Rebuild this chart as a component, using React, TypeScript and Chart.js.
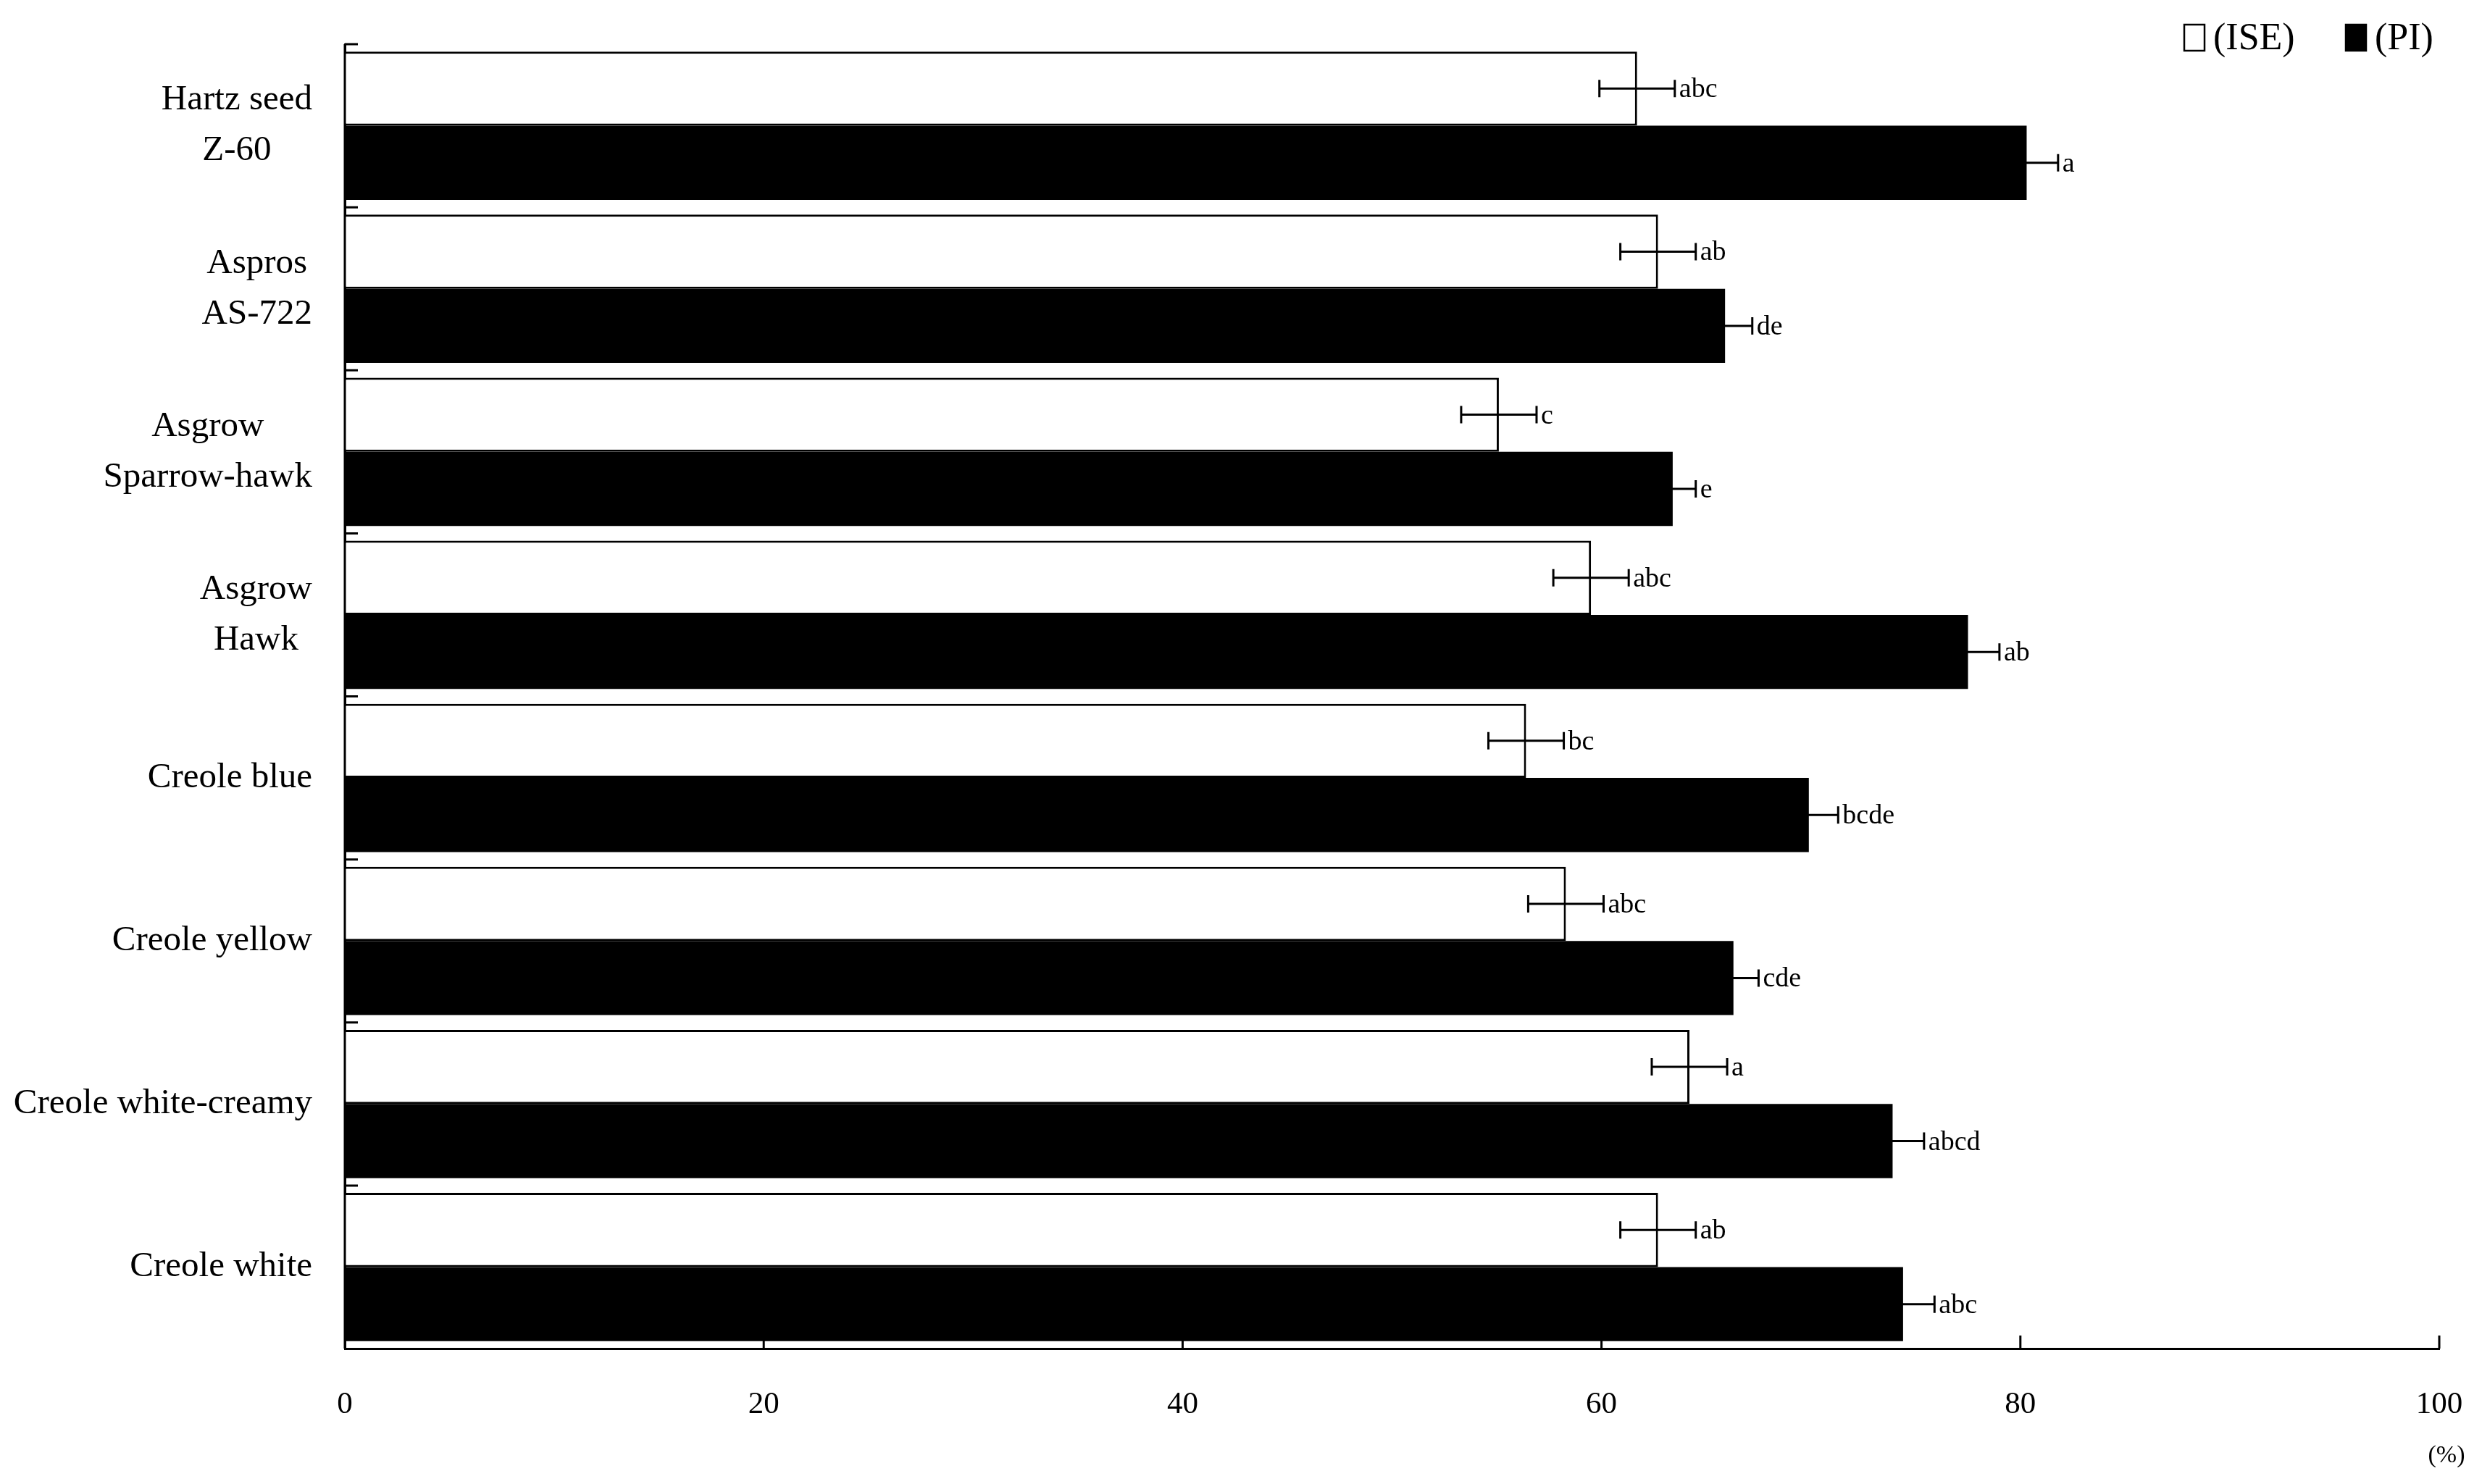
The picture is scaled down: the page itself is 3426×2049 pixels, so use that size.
import React, { useEffect, useRef } from "react";
import { Chart, registerables } from "chart.js";

Chart.register(...registerables);

const categories: string[][] = [
  ["Hartz seed", "Z-60"],
  ["Aspros", "AS-722"],
  ["Asgrow", "Sparrow-hawk"],
  ["Asgrow", "Hawk"],
  ["Creole blue"],
  ["Creole yellow"],
  ["Creole white-creamy"],
  ["Creole white"],
];
const seriesLabels = ["(ISE)", "(PI)"];
const iseValues = [61.7, 62.7, 55.1, 59.5, 56.4, 58.3, 64.2, 62.7];
const piValues = [80.3, 65.9, 63.4, 77.5, 69.9, 66.3, 73.9, 74.4];
const iseErrors = [1.8, 1.8, 1.8, 1.8, 1.8, 1.8, 1.8, 1.8];
const piErrors = [1.5, 1.3, 1.1, 1.5, 1.4, 1.2, 1.5, 1.5];
const iseLetters = ["abc", "ab", "c", "abc", "bc", "abc", "a", "ab"];
const piLetters = ["a", "de", "e", "ab", "bcde", "cde", "abcd", "abc"];
const xMin = 0;
const xMax = 100;
const xStep = 20;
const xUnit = "(%)";

const FONT = "'Liberation Serif', 'Times New Roman', serif";

const errorBarPlugin = {
  id: "errorBars",
  afterDatasetsDraw(chart: any) {
    const ctx = chart.ctx;
    const xs = chart.scales.x;
    const errs = [iseErrors, piErrors];
    const vals = [iseValues, piValues];
    const letters = [iseLetters, piLetters];
    ctx.save();
    ctx.strokeStyle = "#000";
    ctx.fillStyle = "#000";
    ctx.lineWidth = 3;
    ctx.font = `38px ${FONT}`;
    ctx.textAlign = "left";
    ctx.textBaseline = "middle";
    for (let d = 0; d < 2; d++) {
      const meta = chart.getDatasetMeta(d);
      meta.data.forEach((bar: any, i: number) => {
        const y = bar.y;
        const lo = xs.getPixelForValue(vals[d][i] - errs[d][i]);
        const hi = xs.getPixelForValue(vals[d][i] + errs[d][i]);
        const cap = 12;
        ctx.beginPath();
        ctx.moveTo(lo, y);
        ctx.lineTo(hi, y);
        ctx.moveTo(lo, y - cap);
        ctx.lineTo(lo, y + cap);
        ctx.moveTo(hi, y - cap);
        ctx.lineTo(hi, y + cap);
        ctx.stroke();
        ctx.fillText(letters[d][i], hi + 6, y + 2);
      });
    }
    ctx.restore();
  },
};

const decorPlugin = {
  id: "decor",
  afterDraw(chart: any) {
    const ctx = chart.ctx;
    const xs = chart.scales.x;
    const ys = chart.scales.y;
    const area = chart.chartArea;
    ctx.save();
    ctx.strokeStyle = "#000";
    ctx.lineWidth = 3;
    // inward x ticks
    const tl = 18;
    ctx.beginPath();
    for (let v = xMin + xStep; v <= xMax; v += xStep) {
      const px = xs.getPixelForValue(v);
      ctx.moveTo(px, area.bottom);
      ctx.lineTo(px, area.bottom - tl);
    }
    // inward category boundary ticks
    for (let i = 0; i < categories.length; i++) {
      const py = ys.getPixelForValue(i - 0.5);
      ctx.moveTo(area.left, py);
      ctx.lineTo(area.left + tl, py);
    }
    ctx.moveTo(area.left, area.top);
    ctx.lineTo(area.left, area.bottom);
    ctx.stroke();

    // category labels: block right-aligned, lines centered
    ctx.fillStyle = "#000";
    ctx.font = `49px ${FONT}`;
    ctx.textAlign = "center";
    ctx.textBaseline = "middle";
    const rightEdge = area.left - 45;
    const lh = 70;
    categories.forEach((lines, i) => {
      const cy = ys.getPixelForValue(i);
      const maxW = Math.max(...lines.map((l) => ctx.measureText(l).width));
      const cx = rightEdge - maxW / 2;
      lines.forEach((l, k) => {
        const yy = cy + (k - (lines.length - 1) / 2) * lh;
        ctx.fillText(l, cx, yy);
      });
    });

    // unit label under last tick
    ctx.font = `34px ${FONT}`;
    ctx.textAlign = "center";
    ctx.fillText(xUnit, xs.getPixelForValue(xMax) + 10, area.bottom + 148);

    // legend
    ctx.font = `52px ${FONT}`;
    ctx.textAlign = "left";
    ctx.textBaseline = "middle";
    const legendY = 52;
    const boxW = 28;
    const boxH = 36;
    const starts = [3015, 3238];
    chart.data.datasets.forEach((ds: any, d: number) => {
      const bx = starts[d];
      ctx.fillStyle = ds.backgroundColor;
      ctx.fillRect(bx, legendY - boxH / 2, boxW, boxH);
      ctx.lineWidth = 2.5;
      ctx.strokeStyle = "#000";
      ctx.strokeRect(bx, legendY - boxH / 2, boxW, boxH);
      ctx.fillStyle = "#000";
      ctx.fillText(ds.label, bx + 40, legendY + 2);
    });
    ctx.restore();
  },
};

export default function App() {
  const ref = useRef<HTMLCanvasElement | null>(null);
  useEffect(() => {
    if (!ref.current) return;
    const chart = new Chart(ref.current, {
      type: "bar",
      data: {
        labels: categories.map((c) => c.join(" ")),
        datasets: [
          {
            label: seriesLabels[0],
            data: iseValues,
            backgroundColor: "#ffffff",
            borderColor: "#000000",
            borderWidth: 3,
            categoryPercentage: 0.91,
            barPercentage: 1.0,
          },
          {
            label: seriesLabels[1],
            data: piValues,
            backgroundColor: "#000000",
            borderColor: "#000000",
            borderWidth: 0,
            categoryPercentage: 0.91,
            barPercentage: 1.0,
          },
        ],
      },
      options: {
        indexAxis: "y",
        animation: false,
        responsive: false,
        devicePixelRatio: 1,
        layout: { padding: { left: 0, right: 59, top: 61, bottom: 0 } },
        plugins: {
          legend: { display: false },
          tooltip: { enabled: false },
          title: { display: false },
        },
        scales: {
          x: {
            type: "linear",
            min: xMin,
            max: xMax,
            ticks: {
              stepSize: xStep,
              color: "#000",
              font: { family: FONT, size: 43 },
              padding: 52,
            },
            grid: { display: false, drawTicks: false },
            border: { display: true, color: "#000", width: 3 },
            afterFit: (s: any) => {
              s.height = 187;
              s.paddingLeft = 0;
              s.paddingRight = 0;
            },
          },
          y: {
            type: "category",
            ticks: { display: false },
            grid: { display: false, drawTicks: false, offset: true },
            border: { display: true, color: "#000", width: 3 },
            afterFit: (s: any) => {
              s.width = 476;
              s.paddingTop = 0;
              s.paddingBottom = 0;
            },
          },
        },
      },
      plugins: [errorBarPlugin, decorPlugin],
    } as any);
    return () => chart.destroy();
  }, []);
  return (
    <div style={{ position: "absolute", left: 0, top: 0, width: 3426, height: 2049, background: "#fff" }}>
      <canvas ref={ref} width={3426} height={2049} />
    </div>
  );
}
